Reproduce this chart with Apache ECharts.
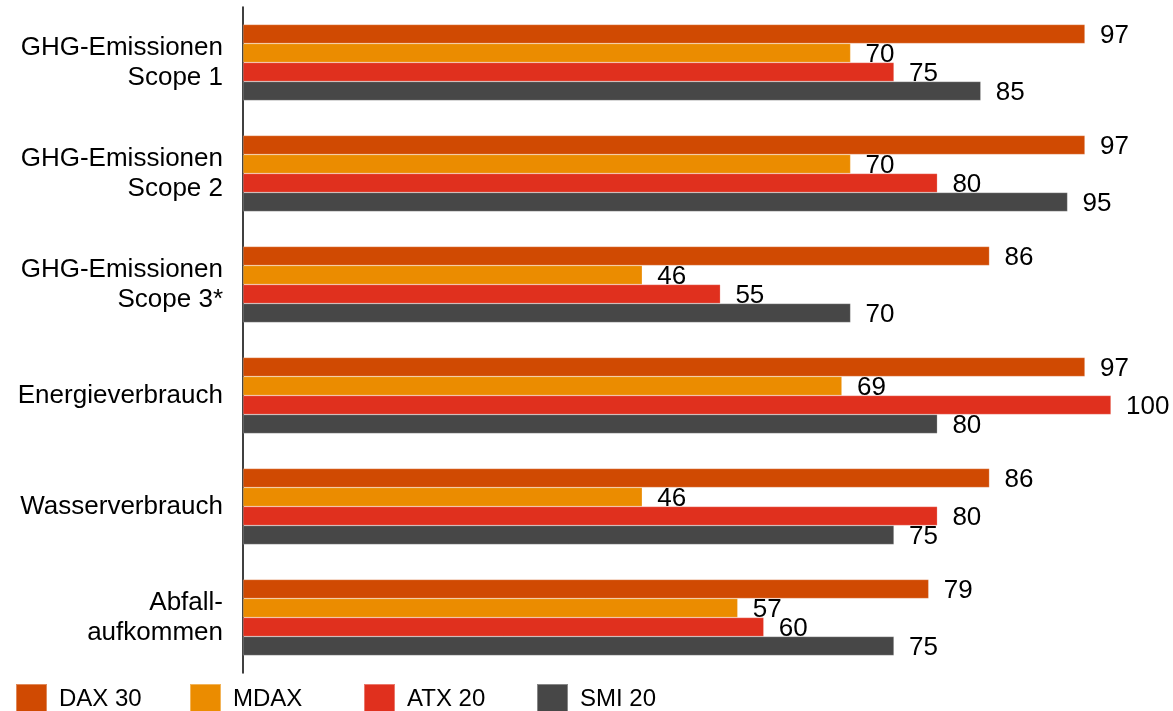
<!DOCTYPE html>
<html>
<head>
<meta charset="utf-8">
<script src="https://cdn.jsdelivr.net/npm/echarts@6/dist/echarts.min.js"></script>
<style>
  html, body { margin: 0; padding: 0; background: #fff; }
  #chart { width: 1173px; height: 711px; }
</style>
</head>
<body>
<div id="chart"></div>
<script>
// Categories (top to bottom)
const categories = [
  'GHG-Emissionen\nScope 1',
  'GHG-Emissionen\nScope 2',
  'GHG-Emissionen\nScope 3*',
  'Energieverbrauch',
  'Wasserverbrauch',
  'Abfall-\naufkommen'
];

// Series values (share in %)
const dax30 = [97, 97, 86, 97, 86, 79];
const mdax  = [70, 70, 46, 69, 46, 57];
const atx20 = [75, 80, 55, 100, 80, 60];
const smi20 = [85, 95, 70, 80, 75, 75];

const seriesNames = ['DAX 30', 'MDAX', 'ATX 20', 'SMI 20'];
const seriesColors = ['#d04a02', '#eb8c00', '#e0301e', '#474747'];
const seriesData = [dax30, mdax, atx20, smi20];

const FONT = "'Liberation Sans', Arial, sans-serif";

const chart = echarts.init(document.getElementById('chart'), null, { renderer: 'canvas' });

// Left offsets of the four legend entries along the bottom row
const legendLefts = [10, 184, 358, 531];

const option = {
  animation: false,
  backgroundColor: '#ffffff',
  grid: { left: 243, right: 62, top: 7, bottom: 38, containLabel: false },
  xAxis: {
    type: 'value',
    min: 0,
    max: 100,
    show: false
  },
  yAxis: {
    type: 'category',
    data: categories,
    inverse: true,
    axisLine: { show: true, lineStyle: { color: '#000', width: 1.5 } },
    axisTick: { show: false },
    axisLabel: {
      margin: 20,
      fontSize: 26,
      lineHeight: 30,
      color: '#000',
      fontFamily: FONT,
      align: 'right'
    },
    splitLine: { show: false }
  },
  legend: seriesNames.map((name, i) => ({
    data: [name],
    left: legendLefts[i],
    top: 678,
    itemWidth: 31,
    itemHeight: 31,
    icon: 'rect',
    textStyle: { fontSize: 24, color: '#000', fontFamily: FONT, padding: [0, 0, 0, 7] },
    selectedMode: false
  })),
  series: seriesNames.map((name, i) => ({
    name: name,
    type: 'bar',
    data: seriesData[i],
    barWidth: 19,
    barGap: '0%',
    itemStyle: {
      color: seriesColors[i],
      borderColor: 'rgba(255,255,255,0.35)',
      borderWidth: 0.6
    },
    label: {
      show: true,
      position: 'right',
      distance: 15,
      offset: [0, 2],
      fontSize: 26,
      color: '#000',
      fontFamily: FONT
    }
  }))
};

chart.setOption(option);
</script>
</body>
</html>
